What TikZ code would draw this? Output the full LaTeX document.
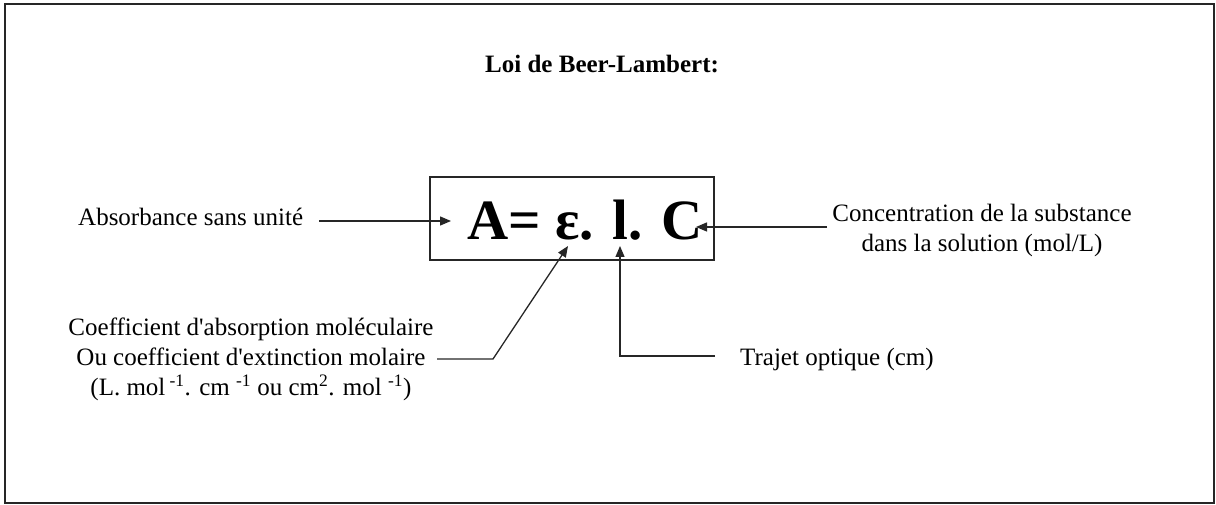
\documentclass[tikz,border=0pt]{standalone}
\usepackage{fontspec}
\setmainfont{Liberation Serif}
\usetikzlibrary{arrows.meta}
\tikzset{
  lbl/.style={inner sep=0pt, font=\fontsize{25}{30}\selectfont},
  conn/.style={line width=1.3pt, draw=black!85},
  arr/.style={conn, -{Triangle[length=11pt,width=9pt]}},
}
\begin{document}
\begin{tikzpicture}[x=1pt,y=-1pt]
\useasboundingbox (0,0) rectangle (1216,505);
\draw[line width=2pt, draw=black!85] (5,4) rectangle (1214,503);
% title
\node[lbl, anchor=base west, font=\fontsize{25}{30}\selectfont\bfseries] (title) at (485,73) {Loi de Beer-Lambert:};
% formula box
\node[draw=black!85, line width=1.5pt, minimum width=284pt, minimum height=83pt, inner sep=0pt] (eqbox) at (572,218.5) {};
\node[lbl, anchor=base west, font=\fontsize{57}{60}\selectfont\bfseries] (eq) at (467,240) {A= ε. l. C};
% labels
\node[lbl, anchor=base west] (absorb) at (78,226) {Absorbance sans unité};
\node[lbl, align=center] (conc) at (982,230) {Concentration de la substance\\dans la solution (mol/L)};
\node[lbl, anchor=base west] (traj) at (740,365) {Trajet optique (cm)};
\node[lbl, align=center] (coef) at (251,359) {Coefficient d\textquotesingle absorption moléculaire\\Ou coefficient d\textquotesingle extinction molaire\\(L. mol\,\textsuperscript{-1}. cm \textsuperscript{-1} ou cm\textsuperscript{2}. mol \textsuperscript{-1})};
% connector points
\coordinate (tipA) at (451,221);
\coordinate (tipC) at (696,227);
\coordinate (c0) at (827,227);
\coordinate (tipL) at (620,246);
\coordinate (l0) at (715,356);
\coordinate (tipE) at (568,246);
\coordinate (e0) at (437,359);
\coordinate (e1) at (493,359);
% connectors
\draw[arr] ([xshift=16pt]absorb.east |- tipA) -- (tipA);
\draw[arr] (c0) -- (tipC);
\draw[arr] (l0) -| (tipL);
\draw[arr] (e0) -- (e1) -- (tipE);
\end{tikzpicture}
\end{document}
